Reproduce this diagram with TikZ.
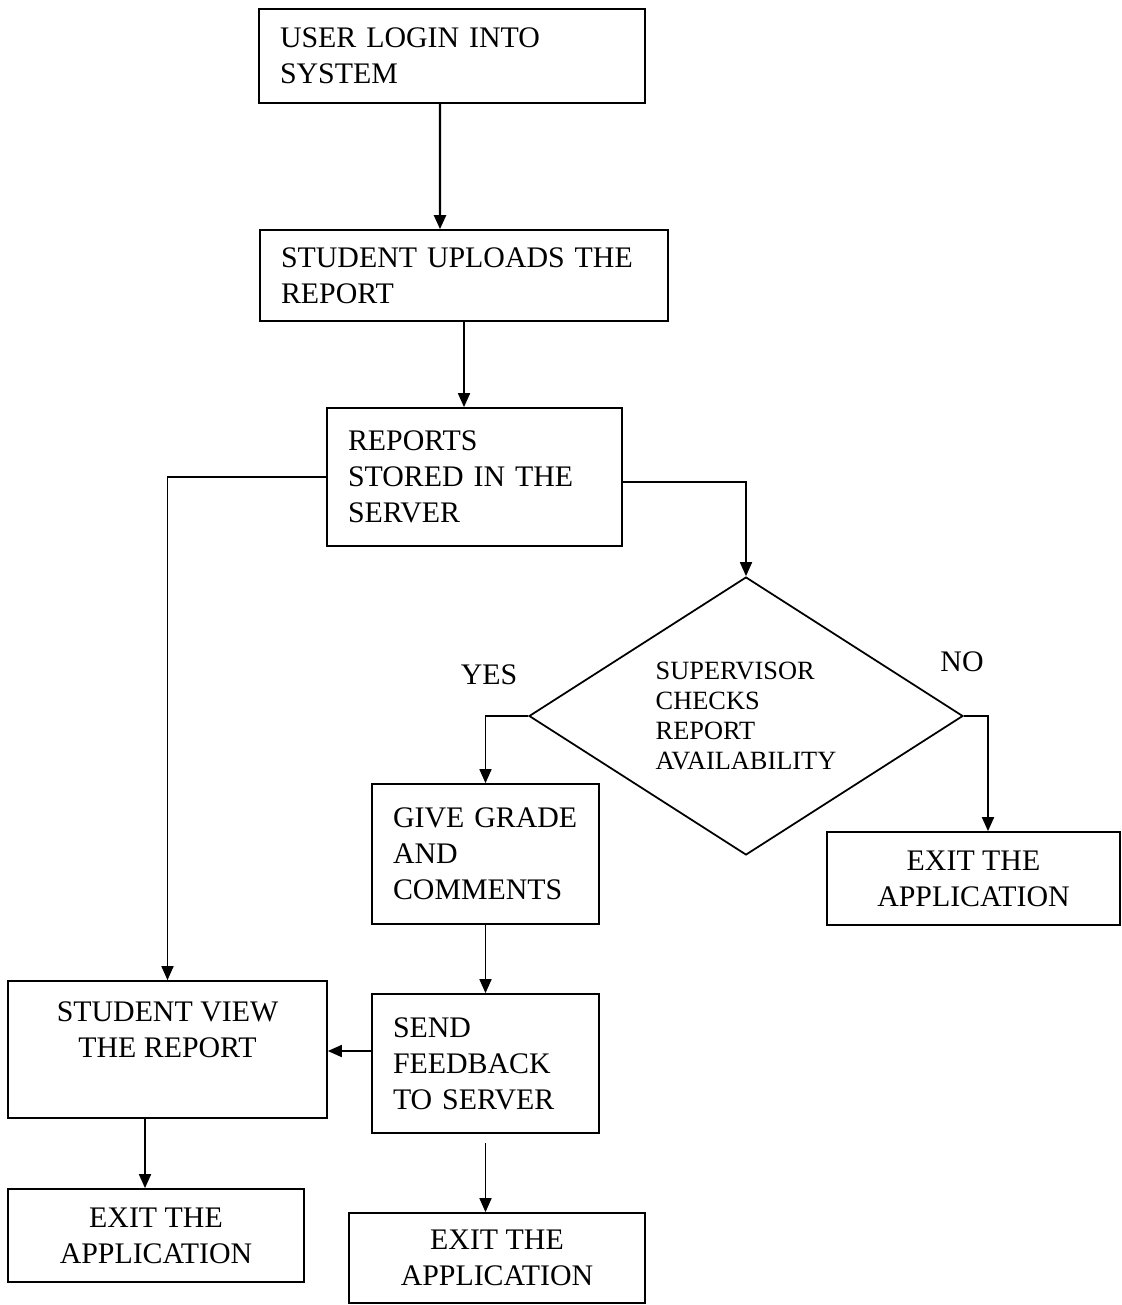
\documentclass[tikz,border=0pt]{standalone}
\usepackage{fontspec}
\setmainfont{Liberation Serif}
\usetikzlibrary{shapes.geometric,arrows.meta}

\newcommand{\boxfont}{\fontsize{17}{20.4}\selectfont}
\newcommand{\checkfont}{\fontsize{15}{17}\selectfont}

\begin{document}
\begin{tikzpicture}[x=0.02cm,y=-0.02cm,
  >={Triangle[length=0.28cm,width=0.24cm]},
  stepbox/.style={draw, rectangle, line width=1pt, align=left, inner xsep=0.42cm, inner ysep=0pt, font=\boxfont},
  exitbox/.style={draw, rectangle, line width=1pt, align=center, inner sep=0pt, font=\boxfont},
  flow/.style={line width=1pt, ->}]

\useasboundingbox (0,0) rectangle (1122,1305);

% The steps down the middle
\node[stepbox, line width=1.4pt, text width=6.88cm, minimum height=1.88cm] (login) at (452,56) {USER LOGIN INTO\\SYSTEM};
\node[stepbox, text width=7.32cm, minimum height=1.82cm] (upload) at (464,275.5) {STUDENT UPLOADS THE\\REPORT};
\node[stepbox, text width=5.06cm, minimum height=2.76cm] (stored) at (474.5,477) {REPORTS\\STORED IN THE\\SERVER};

% The supervisor's check
\node[draw, diamond, aspect=1.56, line width=1pt, inner sep=0pt, minimum width=8.68cm, minimum height=5.56cm, align=left, font=\checkfont] (check) at (746,716) {SUPERVISOR\\CHECKS\\REPORT\\AVAILABILITY};
\node[font=\boxfont] (yes) at (489,675) {YES};
\node[font=\boxfont] (no) at (962,662) {NO};

\node[stepbox, text width=3.70cm, minimum height=2.80cm] (grade) at (485.5,854) {GIVE GRADE\\AND\\COMMENTS};
\node[stepbox, text width=3.70cm, minimum height=2.78cm] (feedback) at (485.5,1063.5) {SEND\\FEEDBACK\\TO SERVER};
\node[exitbox, minimum width=5.86cm, minimum height=1.86cm] (exitR) at (973.5,878.5) {EXIT THE\\APPLICATION};

% The student's side
\node[exitbox, text depth=0.78cm, minimum width=6.38cm, minimum height=2.74cm] (view) at (167.5,1049.5) {STUDENT VIEW\\THE REPORT};
\node[exitbox, minimum width=5.92cm, minimum height=1.86cm] (exitL) at (156,1235.5) {EXIT THE\\APPLICATION};
\node[exitbox, minimum width=5.92cm, minimum height=1.80cm] (exitM) at (497,1258) {EXIT THE\\APPLICATION};

% Connectors
\draw[flow, line width=1.4pt] ([xshift=-0.24cm]login.south) -- ([xshift=-0.48cm]upload.north);
\draw[flow] (upload.south) -- (upload.south |- stored.north);
\draw[flow] (stored.west) -| (view.north);
\draw[flow] ([yshift=-0.1cm]stored.east) -| (check.north);
\draw[flow] (check.west) -| (grade.north);
\draw[flow] (check.east) -| ([xshift=0.29cm]exitR.north);
\draw[flow] (grade.south) -- (feedback.north);
\draw[flow] ([yshift=0.25cm]feedback.west) -- ([yshift=0.25cm]feedback.west -| view.east);
\draw[flow] ([xshift=-0.45cm]view.south) -- ([xshift=-0.45cm]view.south |- exitL.north);
\draw[flow, shorten <=0.18cm] (feedback.south) -- (feedback.south |- exitM.north);
\end{tikzpicture}
\end{document}
